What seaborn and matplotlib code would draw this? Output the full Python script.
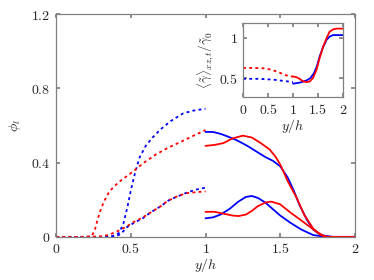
import matplotlib
matplotlib.use("Agg")
import matplotlib.pyplot as plt
import seaborn as sns

# ==============================
# Dados
# ==============================
# painel principal: phi_l vs y/h (tracejado 0..1, contínuo 1..2)
x_blue_up_dash = [0, 0.1, 0.2, 0.3, 0.38, 0.42, 0.45, 0.48, 0.5, 0.53, 0.56, 0.6, 0.64, 0.7, 0.77, 0.85, 0.92, 1.0]
y_blue_up_dash = [0, 0, 0, 0, 0.005, 0.02, 0.07, 0.17, 0.25, 0.35, 0.43, 0.49, 0.53, 0.58, 0.625, 0.665, 0.68, 0.69]

x_red_up_dash = [0, 0.1, 0.2, 0.24, 0.26, 0.28, 0.3, 0.32, 0.35, 0.38, 0.42, 0.47, 0.52, 0.58, 0.67, 0.75, 0.83, 0.92, 1.0]
y_red_up_dash = [0, 0, 0, 0.005, 0.04, 0.1, 0.15, 0.19, 0.235, 0.265, 0.295, 0.325, 0.355, 0.395, 0.445, 0.48, 0.51, 0.545, 0.575]

x_red_lo_dash = [0, 0.2, 0.3, 0.35, 0.41, 0.47, 0.52, 0.58, 0.63, 0.7, 0.74, 0.8, 0.87, 0.93, 1.0]
y_red_lo_dash = [0, 0, 0.003, 0.01, 0.03, 0.055, 0.08, 0.105, 0.13, 0.165, 0.19, 0.215, 0.235, 0.24, 0.245]

x_blue_lo_dash = [0, 0.2, 0.38, 0.42, 0.45, 0.47, 0.52, 0.58, 0.63, 0.7, 0.76, 0.82, 0.88, 0.94, 1.0]
y_blue_lo_dash = [0, 0, 0, 0.01, 0.03, 0.05, 0.075, 0.1, 0.13, 0.165, 0.2, 0.22, 0.24, 0.255, 0.265]

x_blue_up = [1.0, 1.05, 1.1, 1.15, 1.21, 1.28, 1.34, 1.4, 1.45, 1.5, 1.55, 1.59, 1.63, 1.68, 1.72, 1.77, 1.85, 2.0]
y_blue_up = [0.565, 0.565, 0.555, 0.54, 0.52, 0.49, 0.46, 0.43, 0.41, 0.38, 0.32, 0.25, 0.17, 0.09, 0.04, 0.01, 0, 0]

x_red_up = [1.0, 1.06, 1.12, 1.18, 1.25, 1.31, 1.37, 1.43, 1.47, 1.5, 1.55, 1.61, 1.66, 1.72, 1.77, 1.82, 1.9, 2.0]
y_red_up = [0.49, 0.495, 0.505, 0.53, 0.545, 0.535, 0.505, 0.47, 0.43, 0.39, 0.3, 0.21, 0.12, 0.045, 0.01, 0, 0, 0]

x_blue_lo = [1.0, 1.05, 1.1, 1.16, 1.22, 1.27, 1.31, 1.35, 1.4, 1.45, 1.5, 1.57, 1.64, 1.72, 1.8, 2.0]
y_blue_lo = [0.10, 0.105, 0.12, 0.15, 0.19, 0.215, 0.22, 0.21, 0.185, 0.15, 0.115, 0.075, 0.04, 0.01, 0, 0]

x_red_lo = [1.0, 1.06, 1.12, 1.18, 1.22, 1.27, 1.31, 1.35, 1.4, 1.44, 1.5, 1.57, 1.63, 1.68, 1.74, 1.8, 2.0]
y_red_lo = [0.135, 0.135, 0.125, 0.115, 0.112, 0.12, 0.14, 0.165, 0.185, 0.19, 0.175, 0.13, 0.095, 0.065, 0.03, 0, 0]

# inset: taxa de cisalhamento média
xi_red_dash = [0, 0.2, 0.4, 0.55, 0.7, 0.85, 1.0]
yi_red_dash = [0.625, 0.625, 0.62, 0.605, 0.575, 0.535, 0.515]
xi_blue_dash = [0, 0.3, 0.6, 0.8, 1.0]
yi_blue_dash = [0.49, 0.49, 0.48, 0.465, 0.45]
xi_blue = [1.0, 1.15, 1.27, 1.35, 1.42, 1.48, 1.53, 1.6, 1.67, 1.73, 1.8, 1.9, 2.0]
yi_blue = [0.43, 0.445, 0.47, 0.5, 0.56, 0.65, 0.76, 0.88, 0.97, 1.01, 1.03, 1.03, 1.03]
xi_red = [1.0, 1.07, 1.13, 1.2, 1.27, 1.33, 1.4, 1.47, 1.53, 1.6, 1.67, 1.73, 1.8, 1.87, 2.0]
yi_red = [0.52, 0.51, 0.49, 0.46, 0.45, 0.455, 0.5, 0.6, 0.74, 0.88, 0.99, 1.07, 1.1, 1.11, 1.11]

main_xticks = [0, 0.5, 1, 1.5, 2]
main_yticks = [0, 0.4, 0.8, 1.2]
inset_yticks = [0.5, 1]

# ==============================
# Estilo
# ==============================
sns.set_theme(style="ticks")
plt.rcParams["mathtext.fontset"] = "cm"
plt.rcParams["font.family"] = ["DejaVu Serif"]
BLUE = "#0000ff"
RED = "#ff0000"
GRAY = "#808080"
DOT = (0, (1.6, 1.8))


def style_axes(ax, xt, yt, size):
    for s in ax.spines.values():
        s.set_color(GRAY)
        s.set_linewidth(0.9)
    ax.tick_params(direction="in", top=True, right=True, color=GRAY,
                   length=3, labelsize=size, pad=4)
    ax.set_xticks(xt)
    ax.set_yticks(yt)
    ax.set_xticklabels([f"${t:g}$" for t in xt])
    ax.set_yticklabels([f"${t:g}$" for t in yt])


fig = plt.figure(figsize=(3.74, 2.8), dpi=100)
ax = fig.add_axes([0.150, 0.154, 0.799, 0.796])

lw = 1.3
sns.lineplot(x=x_blue_up_dash, y=y_blue_up_dash, ax=ax, color=BLUE, lw=lw, linestyle=DOT, sort=False)
sns.lineplot(x=x_red_up_dash, y=y_red_up_dash, ax=ax, color=RED, lw=lw, linestyle=DOT, sort=False)
sns.lineplot(x=x_blue_lo_dash, y=y_blue_lo_dash, ax=ax, color=BLUE, lw=lw, linestyle=DOT, sort=False)
sns.lineplot(x=x_red_lo_dash, y=y_red_lo_dash, ax=ax, color=RED, lw=lw, linestyle=DOT, sort=False)
sns.lineplot(x=x_blue_up, y=y_blue_up, ax=ax, color=BLUE, lw=lw, sort=False)
sns.lineplot(x=x_blue_lo, y=y_blue_lo, ax=ax, color=BLUE, lw=lw, sort=False)
sns.lineplot(x=x_red_up, y=y_red_up, ax=ax, color=RED, lw=lw, sort=False)
sns.lineplot(x=x_red_lo, y=y_red_lo, ax=ax, color=RED, lw=lw, sort=False)

ax.set_xlim(0, 2)
ax.set_ylim(0, 1.2)
style_axes(ax, main_xticks, main_yticks, 10)
ax.set_xlabel("$y/h$", fontsize=10, labelpad=0)
ax.set_ylabel(r"$\phi_l$", fontsize=10, labelpad=6)

# ==============================
# Inset
# ==============================
axi = fig.add_axes([0.650, 0.652, 0.267, 0.266])
sns.lineplot(x=xi_red_dash, y=yi_red_dash, ax=axi, color=RED, lw=lw, linestyle=DOT, sort=False)
sns.lineplot(x=xi_blue_dash, y=yi_blue_dash, ax=axi, color=BLUE, lw=lw, linestyle=DOT, sort=False)
sns.lineplot(x=xi_blue, y=yi_blue, ax=axi, color=BLUE, lw=lw, sort=False)
sns.lineplot(x=xi_red, y=yi_red, ax=axi, color=RED, lw=lw, sort=False)
axi.set_xlim(0, 2)
axi.set_ylim(0.26, 1.18)
style_axes(axi, main_xticks, inset_yticks, 10)
axi.set_xlabel("$y/h$", fontsize=10, labelpad=0)
axi.set_ylabel(r"$\langle\tilde{\gamma}\rangle_{xz,t}/\tilde{\gamma}_0$", fontsize=9.5, labelpad=2)

fig.savefig("out.png", dpi=100)
plt.close(fig)
